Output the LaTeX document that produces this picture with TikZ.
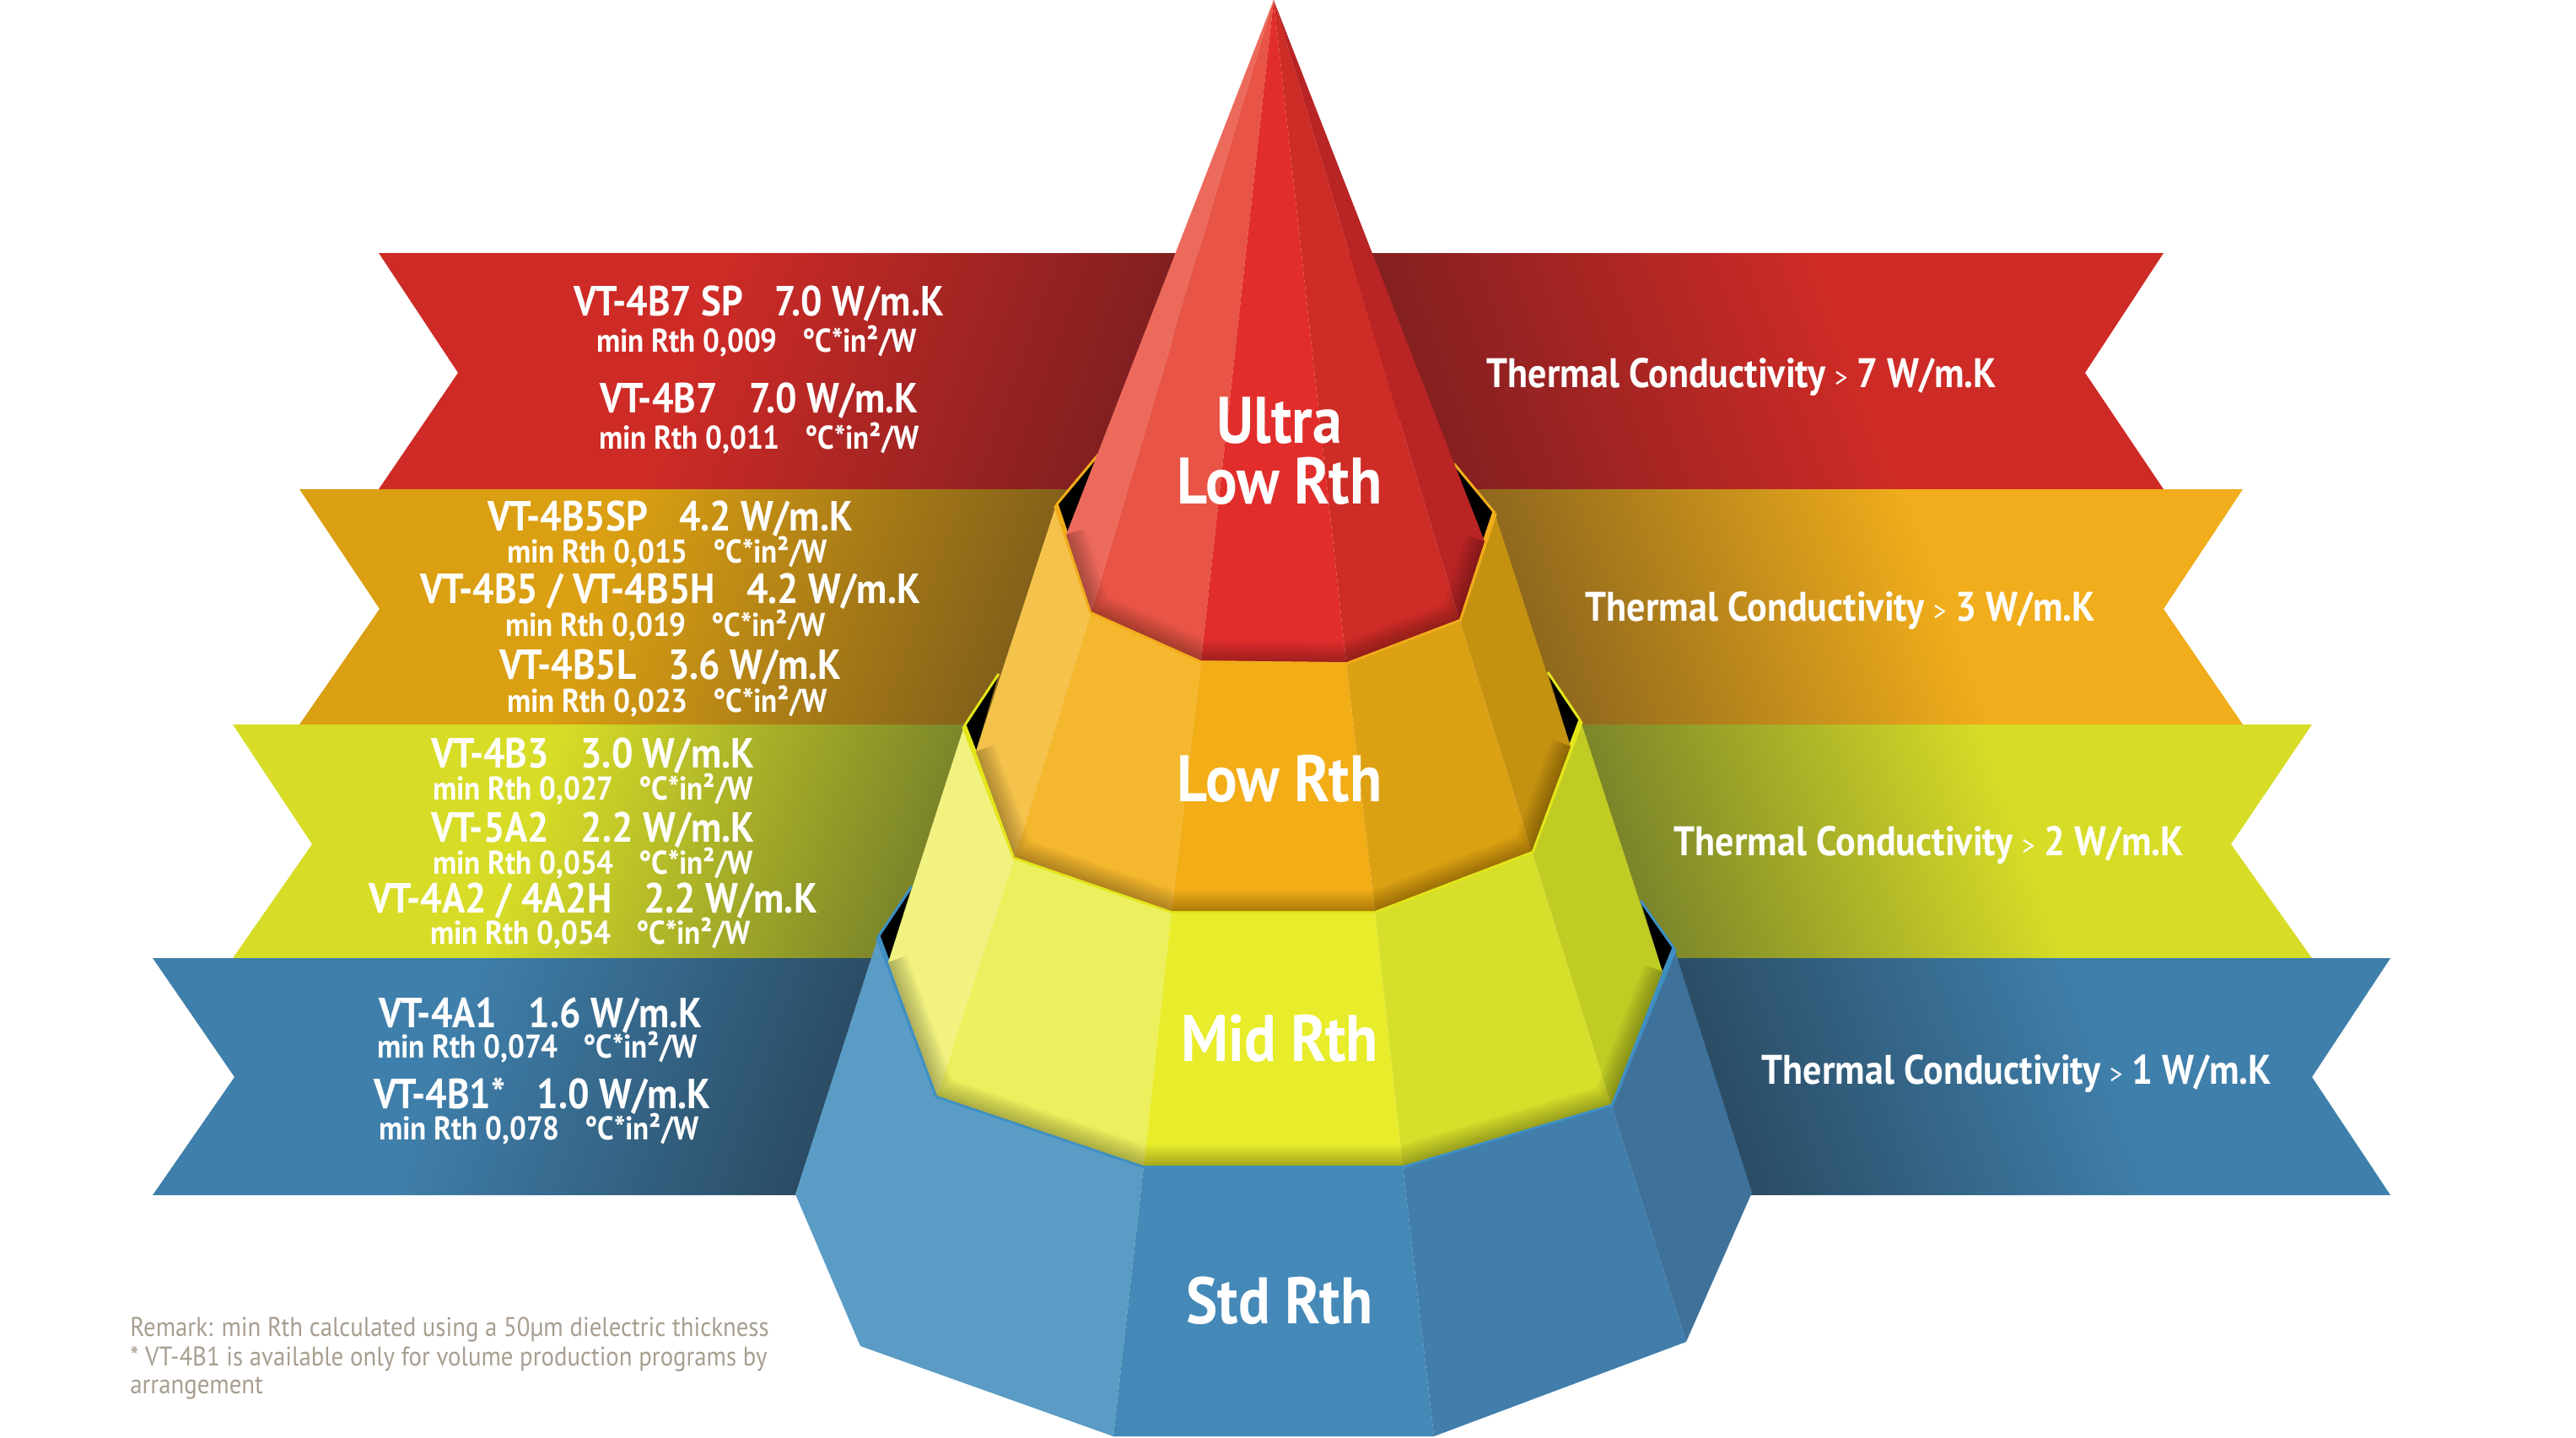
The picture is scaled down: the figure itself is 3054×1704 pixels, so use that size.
\documentclass[tikz,border=0pt]{standalone}
\usepackage{fontspec}
\setmainfont[FakeStretch=0.9]{PT Sans}
\usetikzlibrary{positioning}

% colours %
\definecolor{redband}{HTML}{CE2B26}
\definecolor{reddark}{HTML}{5A191D}
\definecolor{orgband}{HTML}{DA9F12}
\definecolor{orgright}{HTML}{F1AD1B}
\definecolor{orgdark}{HTML}{57411E}
\definecolor{yelband}{HTML}{D7DC27}
\definecolor{yeldark}{HTML}{424F2A}
\definecolor{bluband}{HTML}{3F7FAB}
\definecolor{bludark}{HTML}{1F2F3C}
\definecolor{blurim}{HTML}{3F8FC4}
\definecolor{remarkcol}{HTML}{A89E90}
\colorlet{bandbase}{redband}
\colorlet{banddark}{reddark}
\pgfdeclarehorizontalshading[bandbase,banddark]{bandfade}{100bp}{color(0bp)=(bandbase); color(42bp)=(bandbase); color(90bp)=(banddark); color(100bp)=(banddark)}

\tikzset{
  spec/.style={text=white, inner sep=0pt, font=\bfseries\fontsize{25}{27}\selectfont},
  rth/.style={text=white, inner sep=0pt, font=\bfseries\fontsize{19.5}{22}\selectfont},
  cond/.style={text=white, inner sep=0pt, font=\bfseries\fontsize{24.5}{27}\selectfont},
  tier/.style={text=white, inner sep=0pt, align=center, font=\bfseries\fontsize{39}{36}\selectfont},
  remark/.style={text=remarkcol, inner sep=0pt, anchor=west, font=\fontsize{16}{18}\selectfont},
  rim/.style={line width=3pt, line join=miter},
  thin rim/.style={line width=1.5pt, line join=miter}
}
\newcommand{\gp}{\hspace{.75em}}
\newcommand{\gt}{\hspace{.22em}{\mdseries\fontsize{17}{17}\selectfont >}\hspace{.22em}}
\newcommand{\rimglow}[2]{\begin{scope}
    \clip #1;
    \foreach \w in {24,22,...,2}
      \draw[black, line width=\w pt, opacity=.022, line join=round] #2;
  \end{scope}}

\begin{document}
\begin{tikzpicture}[x=.5pt, y=-.5pt]
  \useasboundingbox (0,0) rectangle (3054,1704);

  % bands %
  \foreach \base/\dark/\rbase/\yt/\ym/\yb/\xo/\xn/\xit/\xib/\xrit/\xrib/\xrn/\xro in {
    redband/reddark/redband/300/442/580/449/543/1440/1300/1560/1700/2472/2565,
    orgband/orgdark/orgright/580/722/859/355/450/1300/1220/1700/1800/2565/2659,
    yelband/yeldark/yelband/859/1001/1136/276/370/1220/1090/1800/1930/2645/2741,
    bluband/bludark/bluband/1136/1277/1417/181/278/1090/980/1930/2040/2741/2834}{
    \colorlet{bandbase}{\base}
    \colorlet{banddark}{\dark}
    \shade[shading=bandfade, shading angle=-20] (\xo,\yt) -- (\xit,\yt) -- (\xib,\yb) -- (\xo,\yb) -- (\xn,\ym) -- cycle;
    \colorlet{bandbase}{\rbase}
    \shade[shading=bandfade, shading angle=200] (\xro,\yt) -- (\xrit,\yt) -- (\xrib,\yb) -- (\xro,\yb) -- (\xrn,\ym) -- cycle;
  }

  % rim points %
  \coordinate (apex) at (1510,0);
  \coordinate (c0) at (1264,634);  \coordinate (c1) at (1294,725);  \coordinate (c2) at (1424,783);
  \coordinate (c3) at (1596,785);  \coordinate (c4) at (1730,734);  \coordinate (c5) at (1760,642);
  \coordinate (oa) at (1302,539);  \coordinate (o0) at (1252,599);  \coordinate (o5) at (1772,608);  \coordinate (ob) at (1724,550);
  \coordinate (d0) at (1157,891);  \coordinate (d1) at (1203,1016); \coordinate (d2) at (1389,1080);
  \coordinate (d3) at (1630,1080); \coordinate (d4) at (1816,1009); \coordinate (d5) at (1862,885);
  \coordinate (ya) at (1184,799);  \coordinate (y0) at (1143,861);  \coordinate (y5) at (1874,855);  \coordinate (yb) at (1835,797);
  \coordinate (e0) at (1053,1141); \coordinate (e1) at (1111,1299); \coordinate (e2) at (1356,1382);
  \coordinate (e3) at (1663,1382); \coordinate (e4) at (1910,1309); \coordinate (e5) at (1971,1152);
  \coordinate (ba) at (1081,1051); \coordinate (b0) at (1041,1111); \coordinate (b5) at (1985,1125); \coordinate (bb) at (1945,1068);
  \coordinate (f0) at (943,1416);  \coordinate (f1) at (1020,1596); \coordinate (f2) at (1320,1703);
  \coordinate (f3) at (1700,1703); \coordinate (f4) at (1999,1591); \coordinate (f5) at (2077,1414);

  % blue tier %
  \fill[black] (ba) -- (b0) -- (e0) -- cycle;
  \fill[black] (bb) -- (b5) -- (e5) -- cycle;
  \definecolor{facet}{HTML}{5A9CC5}
  \fill[facet] (b0) -- (e1) -- (e2) -- (f2) -- (f1) -- (f0) -- cycle;
  \foreach \a/\b/\c/\d/\col in {e2/e3/f3/f2/4489B7, e3/e4/f4/f3/417EAB, e4/b5/f5/f4/3F729B}{
    \definecolor{facet}{HTML}{\col}
    \fill[facet] (\a) -- (\b) -- (\c) -- (\d) -- cycle;
  }
  \draw[blurim, thin rim] (ba) -- (b0);
  \draw[blurim, thin rim] (bb) -- (b5);
  \draw[rim, color=blurim] (b0) -- (e1) -- (e2) -- (e3) -- (e4) -- (b5);

  % yellow tier %
  \fill[black] (ya) -- (y0) -- (d0) -- cycle;
  \fill[black] (yb) -- (y5) -- (d5) -- cycle;
  \foreach \a/\b/\c/\d/\col in {y0/d1/e1/e0/F1F280, d1/d2/e2/e1/ECF05E, d2/d3/e3/e2/E8EC2A, d3/d4/e4/e3/D6DF2A, d4/y5/e5/e4/C0CC24}{
    \definecolor{facet}{HTML}{\col}
    \fill[facet] (\a) -- (\b) -- (\c) -- (\d) -- cycle;
  }
  \rimglow{(y0) -- (d1) -- (d2) -- (d3) -- (d4) -- (y5) -- (e5) -- (e4) -- (e3) -- (e2) -- (e1) -- (e0) -- cycle}{(e0) -- (e1) -- (e2) -- (e3) -- (e4) -- (e5)}
  \draw[yelband!70!yellow, thin rim] (ya) -- (y0);
  \draw[yelband!70!yellow, thin rim] (yb) -- (y5);
  \draw[rim, color=yelband!70!yellow] (y0) -- (d1) -- (d2) -- (d3) -- (d4) -- (y5);

  % orange tier %
  \fill[black] (oa) -- (o0) -- (c0) -- cycle;
  \fill[black] (ob) -- (o5) -- (c5) -- cycle;
  \foreach \a/\b/\c/\d/\col in {o0/c1/d1/d0/F5C34C, c1/c2/d2/d1/F4B72E, c2/c3/d3/d2/F2AD17, c3/c4/d4/d3/DCA013, c4/o5/d5/d4/C49111}{
    \definecolor{facet}{HTML}{\col}
    \fill[facet] (\a) -- (\b) -- (\c) -- (\d) -- cycle;
  }
  \rimglow{(o0) -- (c1) -- (c2) -- (c3) -- (c4) -- (o5) -- (d5) -- (d4) -- (d3) -- (d2) -- (d1) -- (d0) -- cycle}{(d0) -- (d1) -- (d2) -- (d3) -- (d4) -- (d5)}
  \draw[orgright, thin rim] (oa) -- (o0);
  \draw[orgright, thin rim] (ob) -- (o5);
  \draw[rim, color=orgright] (o0) -- (c1) -- (c2) -- (c3) -- (c4) -- (o5);

  % cone %
  \foreach \a/\b/\col in {c0/c1/EC6A5C, c1/c2/E85445, c2/c3/E12E2C, c3/c4/CE2C26, c4/c5/B92425}{
    \definecolor{facet}{HTML}{\col}
    \fill[facet] (apex) -- (\a) -- (\b) -- cycle;
  }
  \rimglow{(apex) -- (c0) -- (c1) -- (c2) -- (c3) -- (c4) -- (c5) -- cycle}{(c0) -- (c1) -- (c2) -- (c3) -- (c4) -- (c5)}

  % tier labels %
  \node[tier] (ultra) at (1517,535) {Ultra\\Low Rth};
  \node[tier] (low) at (1517,923) {Low Rth};
  \node[tier] (mid) at (1517,1231) {Mid Rth};
  \node[tier] (std) at (1517,1542) {Std Rth};

  % left texts %
  \node[spec] (sp7) at (900,360) {VT-4B7 SP\gp 7.0 W/m.K};
  \node[rth] (sp7r) at (897,405) {min Rth 0,009\gp °C*in²/W};
  \node[spec] (b7) at (900,475) {VT-4B7\gp 7.0 W/m.K};
  \node[rth] (b7r) at (900,520) {min Rth 0,011\gp °C*in²/W};
  \node[spec] (b5sp) at (795,615) {VT-4B5SP\gp 4.2 W/m.K};
  \node[rth] (b5spr) at (791,655) {min Rth 0,015\gp °C*in²/W};
  \node[spec] (b5) at (795,701) {VT-4B5 / VT-4B5H\gp 4.2 W/m.K};
  \node[rth] (b5r) at (789,742) {min Rth 0,019\gp °C*in²/W};
  \node[spec] (b5l) at (795,791) {VT-4B5L\gp 3.6 W/m.K};
  \node[rth] (b5lr) at (791,832) {min Rth 0,023\gp °C*in²/W};
  \node[spec] (b3) at (703,896) {VT-4B3\gp 3.0 W/m.K};
  \node[rth] (b3r) at (703,936) {min Rth 0,027\gp °C*in²/W};
  \node[spec] (a5) at (703,984) {VT-5A2\gp 2.2 W/m.K};
  \node[rth] (a5r) at (703,1024) {min Rth 0,054\gp °C*in²/W};
  \node[spec] (a2) at (703,1068) {VT-4A2 / 4A2H\gp 2.2 W/m.K};
  \node[rth] (a2r) at (700,1107) {min Rth 0,054\gp °C*in²/W};
  \node[spec] (a1) at (641,1204) {VT-4A1\gp 1.6 W/m.K};
  \node[rth] (a1r) at (637,1242) {min Rth 0,074\gp °C*in²/W};
  \node[spec] (b1) at (643,1300) {VT-4B1*\gp 1.0 W/m.K};
  \node[rth] (b1r) at (639,1339) {min Rth 0,078\gp °C*in²/W};

  % right texts %
  \node[cond] (c7) at (2065,447) {Thermal Conductivity\gt 7 W/m.K};
  \node[cond] (c3t) at (2182,724) {Thermal Conductivity\gt 3 W/m.K};
  \node[cond] (c2t) at (2287,1002) {Thermal Conductivity\gt 2 W/m.K};
  \node[cond] (c1t) at (2391,1273) {Thermal Conductivity\gt 1 W/m.K};

  % remark %
  \node[remark] (rem1) at (154,1576) {Remark: min Rth calculated using a 50µm dielectric thickness};
  \node[remark, below=10pt of rem1.south west, anchor=west] (rem2) {* VT-4B1 is available only for volume production programs by};
  \node[remark, below=10pt of rem2.south west, anchor=west] (rem3) {arrangement};
\end{tikzpicture}
\end{document}
